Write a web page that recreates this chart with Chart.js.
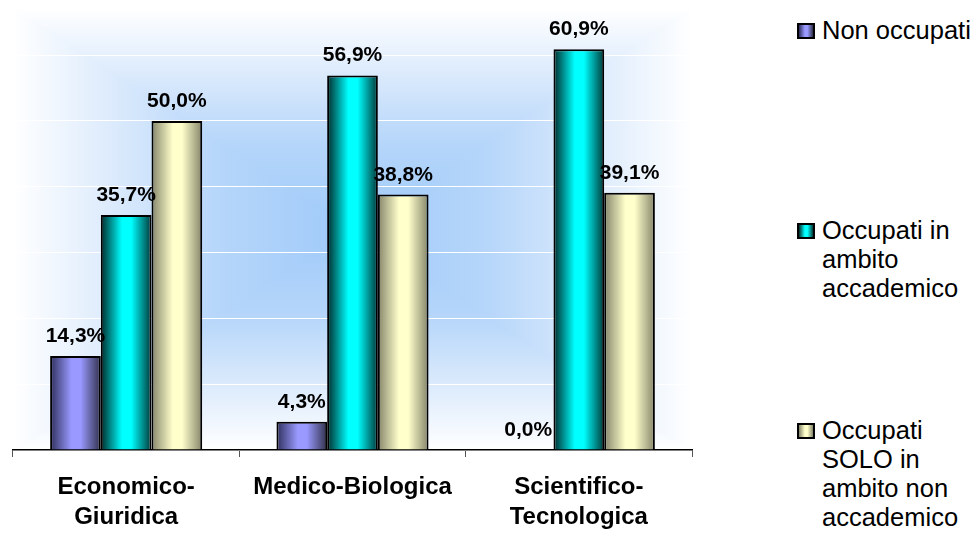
<!DOCTYPE html>
<html>
<head>
<meta charset="utf-8">
<script src="https://cdn.jsdelivr.net/npm/chart.js@4.4.1/dist/chart.umd.min.js"></script>
<style>
  body { margin: 0; background: #fff; width: 974px; height: 556px; overflow: hidden; position: relative;
         font-family: Arial, "Liberation Sans", sans-serif; }
  #wrap { position: absolute; left: 0; top: 0; width: 700px; height: 556px; }
  .item { position: absolute; left: 797px; }
  .box { position: absolute; left: 0; width: 14px; height: 12px; border: 2px solid #000; }
  .txt { position: absolute; left: 25px; top: 0; font-size: 25.5px; line-height: 29px; white-space: nowrap; color: #000; }
</style>
</head>
<body>
<div id="wrap"><canvas id="myChart"></canvas></div>
<div id="legend"></div>
<script>
const categories = [['Economico-', 'Giuridica'], ['Medico-Biologica'], ['Scientifico-', 'Tecnologica']];
const seriesNames = ['Non occupati', 'Occupati in ambito accademico', 'Occupati SOLO in ambito non accademico'];
const legendLines = [['Non occupati'], ['Occupati in', 'ambito', 'accademico'], ['Occupati', 'SOLO in', 'ambito non', 'accademico']];
const nonOccupati = [14.3, 4.3, 0.0];
const occupatiAccademico = [35.7, 56.9, 60.9];
const occupatiNonAccademico = [50.0, 38.8, 39.1];
const gridValues = [0, 10, 20, 30, 40, 50, 60];

// shading for each series: edge, centre, edge
const shades = [
  ['#2e2e5c', '#9999ff', '#30304a'],
  ['#002a2a', '#00ffff', '#003838'],
  ['#85856a', '#ffffcc', '#85856a'],
];

function fmt(v) {
  return v.toFixed(1).replace('.', ',') + '%';
}

// blue "from centre" fill behind the plot
const plotBackground = {
  id: 'plotBackground',
  beforeDraw(chart) {
    const { ctx, chartArea: a } = chart;
    const cx = (a.left + a.right) / 2;
    const cy = (a.top + a.bottom) / 2;
    const parts = [
      [[a.left, a.top], [a.right, a.top], [cx, a.top, cx, cy]],
      [[a.left, a.bottom], [a.right, a.bottom], [cx, a.bottom, cx, cy]],
      [[a.left, a.top], [a.left, a.bottom], [a.left, cy, cx, cy]],
      [[a.right, a.top], [a.right, a.bottom], [a.right, cy, cx, cy]],
    ];
    ctx.save();
    ctx.beginPath();
    ctx.rect(a.left, a.top, a.right - a.left, a.bottom - a.top);
    ctx.clip();
    parts.forEach(([p1, p2, g]) => {
      const grad = ctx.createLinearGradient(g[0], g[1], g[2], g[3]);
      grad.addColorStop(0, '#ffffff');
      grad.addColorStop(0.3, '#dbeafc');
      grad.addColorStop(0.6, '#b6d6fa');
      grad.addColorStop(1, '#9fcaf9');
      ctx.fillStyle = grad;
      ctx.strokeStyle = grad;
      ctx.lineWidth = 1.2;
      ctx.beginPath();
      ctx.moveTo(p1[0], p1[1]);
      ctx.lineTo(p2[0], p2[1]);
      ctx.lineTo(cx, cy);
      ctx.closePath();
      ctx.fill();
      ctx.stroke();
    });
    ctx.restore();
  },
};

// cylinder-like shading across each bar
const barShading = {
  id: 'barShading',
  beforeDatasetsDraw(chart) {
    const { ctx } = chart;
    chart.data.datasets.forEach((ds, di) => {
      const s = shades[di];
      chart.getDatasetMeta(di).data.forEach((el) => {
        const g = ctx.createLinearGradient(el.x - el.width / 2, 0, el.x + el.width / 2, 0);
        g.addColorStop(0, s[0]);
        g.addColorStop(0.42, s[1]);
        g.addColorStop(0.6, s[1]);
        g.addColorStop(1, s[2]);
        el.options.backgroundColor = g;
      });
    });
  },
};

const valueLabels = {
  id: 'valueLabels',
  afterDatasetsDraw(chart) {
    const { ctx } = chart;
    ctx.save();
    ctx.font = 'bold 21px Arial, "Liberation Sans", sans-serif';
    ctx.fillStyle = '#000';
    ctx.textAlign = 'center';
    ctx.textBaseline = 'alphabetic';
    chart.data.datasets.forEach((ds, di) => {
      chart.getDatasetMeta(di).data.forEach((el, i) => {
        ctx.fillText(fmt(ds.data[i]), el.x, el.y - 14);
      });
    });
    ctx.restore();
  },
};

const seriesData = [nonOccupati, occupatiAccademico, occupatiNonAccademico];
const datasets = seriesData.map((values, i) => ({
  label: seriesNames[i],
  data: values,
  backgroundColor: () => shades[i][1],
  borderColor: '#000',
  borderWidth: 2,
  borderSkipped: 'start',
}));

const chart = new Chart(document.getElementById('myChart'), {
  type: 'bar',
  data: { labels: categories, datasets },
  plugins: [plotBackground, barShading, valueLabels],
  options: {
    responsive: true,
    maintainAspectRatio: false,
    animation: false,
    categoryPercentage: 0.672,
    barPercentage: 1,
    layout: { padding: { left: 13, right: 8, top: 9, bottom: 0 } },
    plugins: { legend: { display: false }, tooltip: { enabled: false } },
    scales: {
      x: {
        grid: { display: true, drawOnChartArea: false, drawTicks: true, tickLength: 7, color: '#555', lineWidth: 1 },
        border: { display: true, color: '#000', width: 1.5 },
        ticks: {
          color: '#000',
          padding: 15,
          font: { family: 'Arial, "Liberation Sans", sans-serif', size: 24, weight: 'bold', lineHeight: 1.25 },
          maxRotation: 0,
          autoSkip: false,
        },
        afterFit(scale) { scale.height = 106; },
      },
      y: {
        min: 0,
        max: 67,
        afterBuildTicks(scale) { scale.ticks = gridValues.map((v) => ({ value: v })); },
        grid: { color: '#ffffff', lineWidth: 1, drawTicks: false },
        border: { display: false },
        ticks: { display: false },
        afterFit(scale) { scale.width = 0; },
      },
    },
  },
});

// legend placed to the right, items spread down like the original
const legendTops = [30, 230, 430];
const legend = document.getElementById('legend');
legendLines.forEach((lines, i) => {
  const item = document.createElement('div');
  item.className = 'item';
  item.style.top = (legendTops[i] - 14.5) + 'px';
  const box = document.createElement('div');
  box.className = 'box';
  box.style.top = '7.5px';
  const s = shades[i];
  box.style.background = `linear-gradient(to right, ${s[0]} 0%, ${s[1]} 42%, ${s[1]} 60%, ${s[2]} 100%)`;
  const txt = document.createElement('div');
  txt.className = 'txt';
  txt.innerHTML = lines.join('<br>');
  item.appendChild(box);
  item.appendChild(txt);
  legend.appendChild(item);
});
</script>
</body>
</html>
